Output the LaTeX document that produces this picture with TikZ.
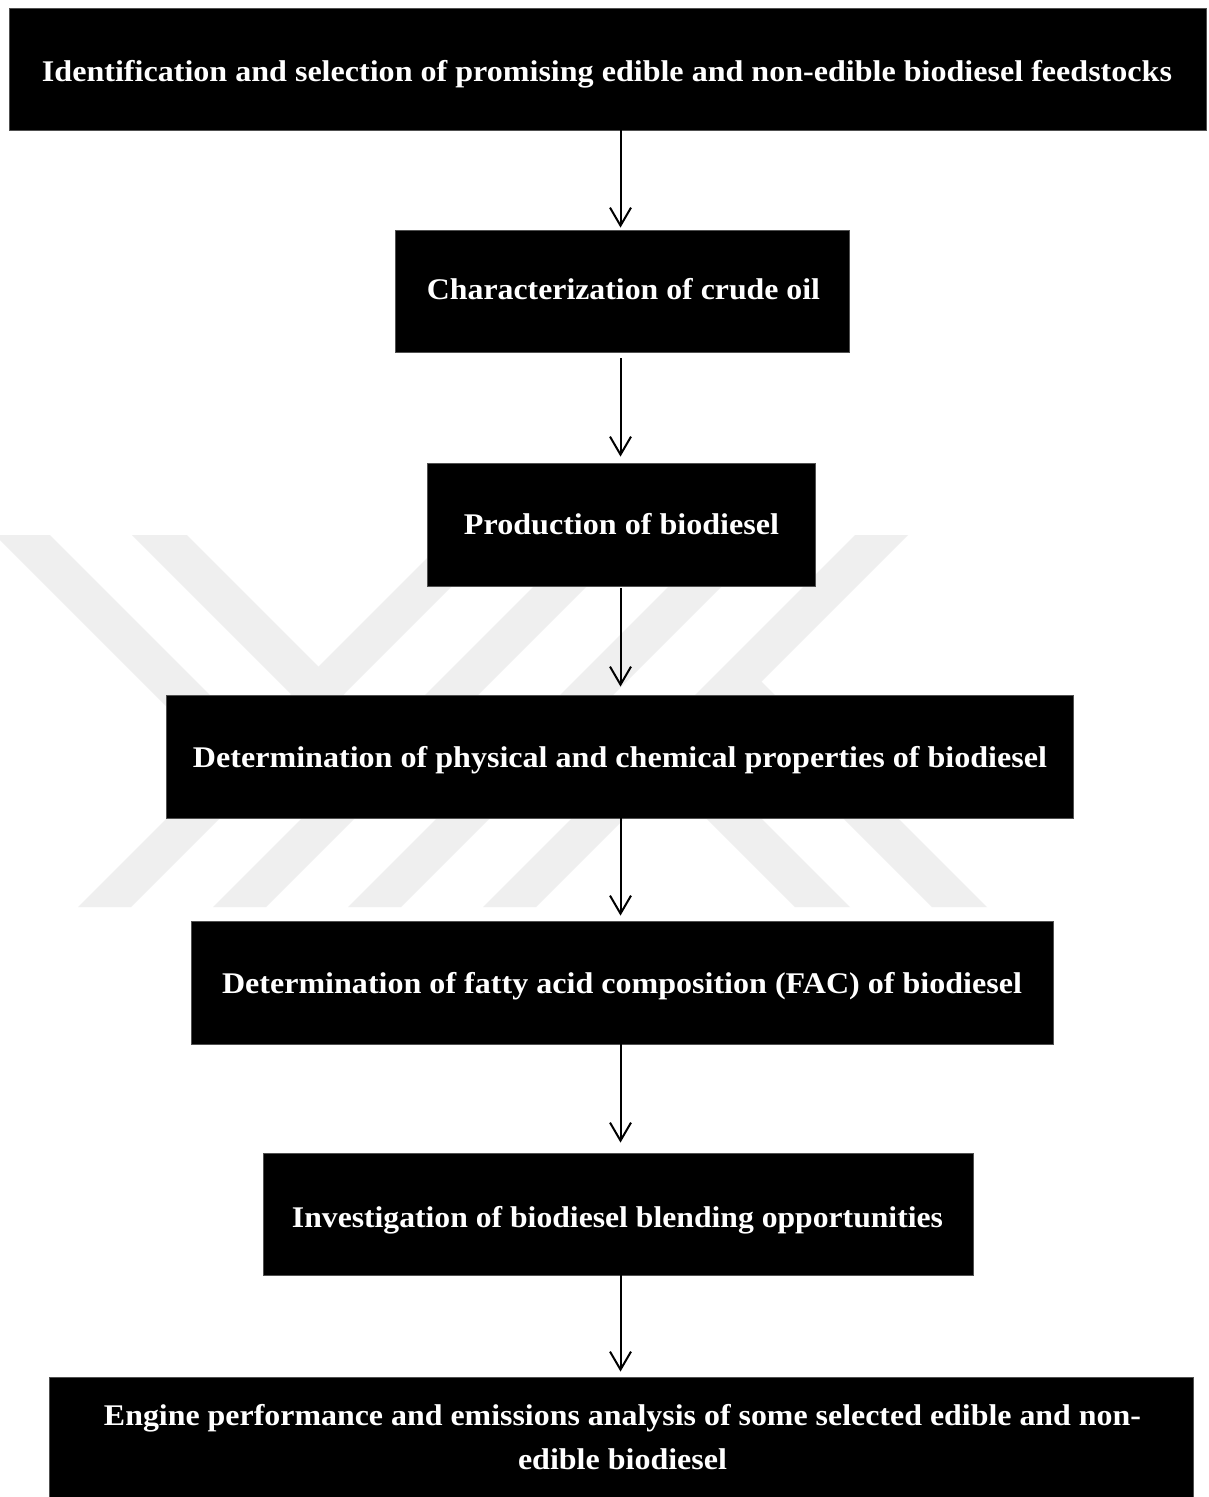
\documentclass[tikz,border=0pt]{standalone}
\usepackage{fontspec}
\setmainfont{Liberation Serif}
\usetikzlibrary{arrows.meta,calc}
\newcommand\fitto[2]{\resizebox{#1}{\height}{#2}}
\definecolor{wm}{HTML}{EFEFEF}
\definecolor{edge}{HTML}{505050}
\begin{document}
\begin{tikzpicture}[x=1pt,y=-1pt,
  box/.style 2 args={draw=edge, line width=0.8pt, fill=black, inner sep=0pt,
    minimum width=#1, minimum height=#2},
  txt/.style={text=white, anchor=base, inner sep=0pt,
    font=\fontsize{30}{30}\selectfont\bfseries},
  arr/.style={line width=2pt, -{Straight Barb[length=18pt,width=21pt,line width=2pt]}},
  band/.style={fill=wm, draw=none}]
\useasboundingbox (0,0) rectangle (1209,1497);
\fill[white] (0,0) rectangle (1209,1497);
% watermark
\foreach \L in {450,585,720,855}{
  \fill[band] (\L,535) -- ({\L+53},535) -- ({\L+53-372},907) -- ({\L-372},907) -- cycle;
}
\fill[band] (-5,535) -- (50,535) -- (276.5,761.5) -- (249,789) -- cycle;
\fill[band] (132,535) -- (187,535) -- (345,693) -- (317.5,720.5) -- cycle;
\fill[band] (987,907) -- (932,907) -- (712.5,687.5) -- (740,660) -- cycle;
\fill[band] (850,907) -- (795,907) -- (637,749) -- (664.5,721.5) -- cycle;
% boxes
\node[box={1197pt}{122pt}] (b1) at (607.5,69) {};
\node[box={454pt}{122pt}]  (b2) at (622,291) {};
\node[box={388pt}{123pt}]  (b3) at (621,524.5) {};
\node[box={907pt}{123pt}]  (b4) at (619.5,756.5) {};
\node[box={862pt}{123pt}]  (b5) at (622,982.5) {};
\node[box={710pt}{122pt}]  (b6) at (618,1214) {};
\node[box={1144pt}{124pt}] (b7) at (621,1439) {};
% texts
\node[txt] (t1) at (607,81) {\fitto{1130pt}{Identification and selection of promising edible and non-edible biodiesel feedstocks}};
\node[txt] (t2) at (623.5,299) {\fitto{393pt}{Characterization of crude oil}};
\node[txt] (t3) at (621.5,534) {\fitto{315pt}{Production of biodiesel}};
\node[txt] (t4) at (620,767) {\fitto{854pt}{Determination of physical and chemical properties of biodiesel}};
\node[txt] (t5) at (622,993) {\fitto{800pt}{Determination of fatty acid composition (FAC) of biodiesel}};
\node[txt] (t6) at (617.5,1227) {\fitto{651pt}{Investigation of biodiesel blending opportunities}};
\node[txt] (t7a) at (622.5,1425) {\fitto{1037pt}{Engine performance and emissions analysis of some selected edible and non-}};
\node[txt] (t7b) at (622.5,1469) {\fitto{209pt}{edible biodiesel}};
% connectors
\coordinate (col) at (620.5,0);
\draw[arr] (b1.south -| col) -- ($(b2.north -| col)+(0,-2)$);
\draw[arr] ($(b2.south -| col)+(0,6)$) -- ($(b3.north -| col)+(0,-6)$);
\draw[arr] ($(b3.south -| col)+(0,2)$) -- ($(b4.north -| col)+(0,-8)$);
\draw[arr] (b4.south -| col) -- ($(b5.north -| col)+(0,-5)$);
\draw[arr] (b5.south -| col) -- ($(b6.north -| col)+(0,-10)$);
\draw[arr] (b6.south -| col) -- ($(b7.north -| col)+(0,-5)$);
\end{tikzpicture}
\end{document}
